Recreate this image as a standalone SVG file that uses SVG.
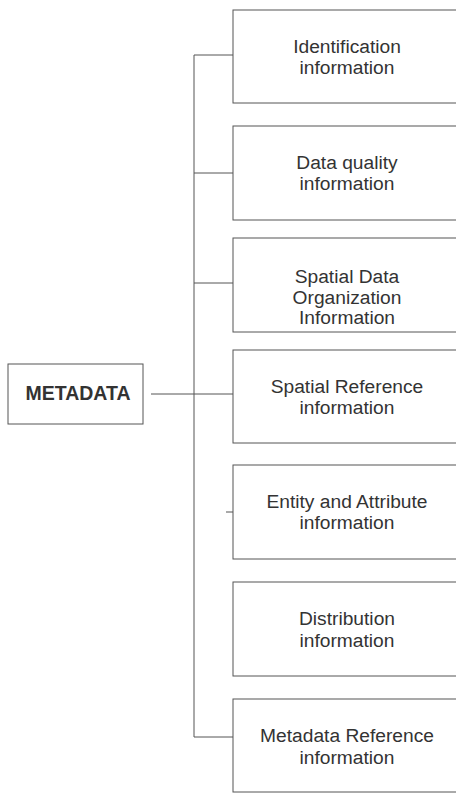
<svg xmlns="http://www.w3.org/2000/svg" width="456" height="793" viewBox="0 0 456 793">
<style>
.box{fill:none;stroke:#555;stroke-width:1}
.lbl{font-family:"Liberation Sans",Arial,sans-serif;font-size:19.2px;fill:#333;text-anchor:middle}
.root{font-family:"Liberation Sans",Arial,sans-serif;font-size:19.5px;font-weight:bold;fill:#333;text-anchor:middle}
.con{fill:none;stroke:#555;stroke-width:1}
</style>
<rect width="456" height="793" fill="#fff"/>
<g id="connectors">
<path class="con" d="M194 55 V737 M194 55 H233 M194 173 H233 M194 283 H233 M151 394 H233 M226 512 H233 M194 737 H233"/>
</g>
<g id="metadata">
<rect class="box" x="8" y="364" width="135" height="60"/>
<text class="root" x="78" y="400">METADATA</text>
</g>
<g id="identification">
<rect class="box" x="233" y="10" width="240" height="93"/>
<text class="lbl" x="347" y="53">Identification</text>
<text class="lbl" x="347" y="74">information</text>
</g>
<g id="data-quality">
<rect class="box" x="233" y="126" width="240" height="94"/>
<text class="lbl" x="347" y="169">Data quality</text>
<text class="lbl" x="347" y="190">information</text>
</g>
<g id="spatial-data-organization">
<rect class="box" x="233" y="238" width="240" height="94"/>
<text class="lbl" x="347" y="283">Spatial Data</text>
<text class="lbl" x="347" y="304">Organization</text>
<text class="lbl" x="347" y="324">Information</text>
</g>
<g id="spatial-reference">
<rect class="box" x="233" y="350" width="240" height="93"/>
<text class="lbl" x="347" y="393">Spatial Reference</text>
<text class="lbl" x="347" y="414">information</text>
</g>
<g id="entity-attribute">
<rect class="box" x="233" y="465" width="240" height="94"/>
<text class="lbl" x="347" y="508">Entity and Attribute</text>
<text class="lbl" x="347" y="529">information</text>
</g>
<g id="distribution">
<rect class="box" x="233" y="582" width="240" height="94"/>
<text class="lbl" x="347" y="625">Distribution</text>
<text class="lbl" x="347" y="647">information</text>
</g>
<g id="metadata-reference">
<rect class="box" x="233" y="699" width="240" height="93"/>
<text class="lbl" x="347" y="742">Metadata Reference</text>
<text class="lbl" x="347" y="764">information</text>
</g>
</svg>
